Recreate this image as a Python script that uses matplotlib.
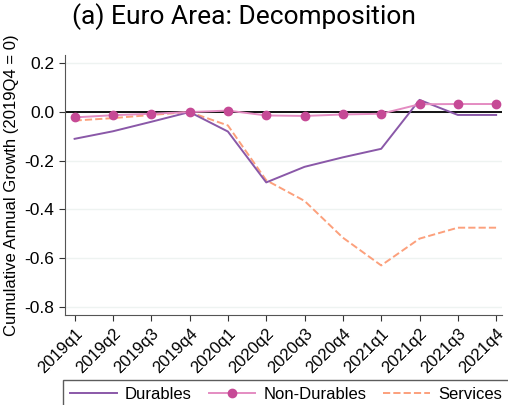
import numpy as np
import matplotlib.pyplot as plt

quarters = ['2019q1', '2019q2', '2019q3', '2019q4', '2020q1', '2020q2',
            '2020q3', '2020q4', '2021q1', '2021q2', '2021q3', '2021q4']
durables = [-0.110, -0.079, -0.040, 0.000, -0.080, -0.289,
            -0.225, -0.186, -0.151, 0.050, -0.012, -0.012]
non_durables = [-0.022, -0.013, -0.007, 0.000, 0.006, -0.014,
                -0.016, -0.010, -0.007, 0.032, 0.033, 0.033]
services = [-0.035, -0.025, -0.012, 0.000, -0.055, -0.280,
            -0.365, -0.516, -0.630, -0.520, -0.475, -0.475]

plt.rcParams['font.family'] = ['Liberation Sans', 'DejaVu Sans']

fig = plt.figure(figsize=(5.08, 4.05), dpi=100)
ax = fig.add_axes([0.128, 0.222, 0.860, 0.642])

x = np.arange(len(quarters))
ax.axhline(0, color='black', lw=1.3, zorder=1)
ax.plot(x, durables, color='#8a58a8', lw=1.4, label='Durables', zorder=3)
ax.plot(x, non_durables, color='#e48cc2', lw=1.4, marker='o', ms=6,
        mfc='#c64a96', mec='#c64a96', label='Non-Durables', zorder=4)
ax.plot(x, services, color='#fca07c', lw=1.4, ls='--', label='Services', zorder=2)

ax.set_xlim(-0.25, 11.15)
ax.set_ylim(-0.834, 0.234)
ax.set_yticks([0.2, 0.0, -0.2, -0.4, -0.6, -0.8])
ax.set_yticklabels(['0.2', '0.0', '-0.2', '-0.4', '-0.6', '-0.8'])
ax.set_xticks(x)
ax.set_xticklabels(quarters, rotation=45, ha='right', rotation_mode='anchor')
ax.tick_params(axis='y', labelsize=12.5)
ax.tick_params(axis='x', labelsize=12)
ax.tick_params(axis='both', color='#333333', length=4)
ax.grid(axis='y', color='#eef3f1', lw=1)
ax.set_axisbelow(True)
for s in ['top', 'right']:
    ax.spines[s].set_visible(False)
for s in ['left', 'bottom']:
    ax.spines[s].set_color('#555555')
ax.set_ylabel('Cumulative Annual Growth (2019Q4 = 0)', fontsize=12)

fig.text(0.142, 0.925, '(a) Euro Area: Decomposition', fontsize=19,
         family=['Roboto', 'DejaVu Sans'], va='bottom', ha='left')

leg = fig.legend(loc='upper center', bbox_to_anchor=(0.563, 0.062), ncol=3,
                 frameon=True, fancybox=False, edgecolor='#333333',
                 fontsize=12, handlelength=2.8, handletextpad=0.5,
                 columnspacing=1.0, borderaxespad=0, borderpad=0.4)
leg.get_frame().set_linewidth(1)

fig.savefig('out.png', dpi=100)
